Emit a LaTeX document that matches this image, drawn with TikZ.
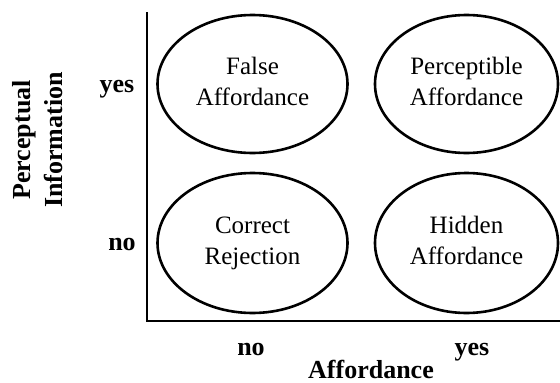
\documentclass[tikz,border=0pt]{standalone}
\usepackage{fontspec}
\setmainfont{Liberation Serif}
\usetikzlibrary{shapes.geometric}
\newcommand\twolines[2]{\strut#1\\#2\strut}
\begin{document}
\begin{tikzpicture}[x=1pt,y=-1pt,
  cell/.style={ellipse,draw,line width=2.6pt,inner sep=0pt,align=center,
    font=\fontsize{25}{31}\selectfont},
  lab/.style={font=\bfseries\fontsize{26}{32}\selectfont,inner sep=0pt},
  axis/.style={line width=2.6pt}]
\useasboundingbox (0,0) rectangle (560,383);
\coordinate (top) at (147,12);
\coordinate (origin) at (147,321);
\coordinate (right) at (560,321);
\draw[axis] (top) -- (origin) -- (right);
\node[cell,minimum width=190pt,minimum height=138pt] (fa) at (252.5,84) {\twolines{False}{Affordance}};
\node[cell,minimum width=183pt,minimum height=138pt] (pa) at (466.5,84) {\twolines{Perceptible}{Affordance}};
\node[cell,minimum width=190pt,minimum height=140pt] (cr) at (252.5,243) {\twolines{Correct}{Rejection}};
\node[cell,minimum width=183pt,minimum height=140pt] (ha) at (466.5,243) {\twolines{Hidden}{Affordance}};
\node[lab,anchor=base] (yyes) at (117,92) {yes};
\node[lab,anchor=base] (yno) at (122,250) {no};
\node[lab,anchor=base] (xno) at (251,355) {no};
\node[lab,anchor=base] (xyes) at (472,355) {yes};
\node[lab,anchor=base] (xtitle) at (371,378) {Affordance};
\node[lab,rotate=90,align=center] (ytitle) at (38,140) {Perceptual\\Information};
\end{tikzpicture}
\end{document}
